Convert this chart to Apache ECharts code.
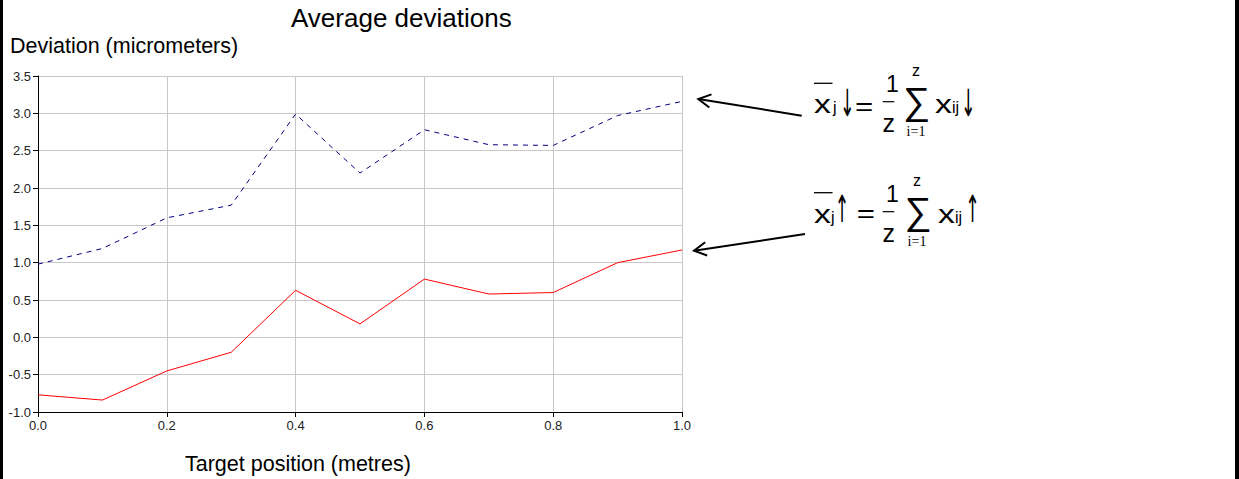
<!DOCTYPE html>
<html>
<head>
<meta charset="utf-8">
<title>Average deviations</title>
<style>
  html, body { margin: 0; padding: 0; background: #ffffff; }
  /* a non-opaque layer keeps text antialiasing greyscale */
  #chart { width: 1239px; height: 479px; opacity: 0.999; }
</style>
<script src="https://cdn.jsdelivr.net/npm/echarts@6/dist/echarts.min.js"></script>
</head>
<body>
<div id="chart"></div>
<script>
// Target positions along the axis (metres)
const positions = [0.0, 0.1, 0.2, 0.3, 0.4, 0.5, 0.6, 0.7, 0.8, 0.9, 1.0];
// Mean deviation, downward run (micrometers)
const meanDown = [0.98, 1.19, 1.60, 1.77, 2.99, 2.20, 2.78, 2.58, 2.57, 2.97, 3.16];
// Mean deviation, upward run (micrometers)
const meanUp = [-0.77, -0.84, -0.45, -0.20, 0.63, 0.18, 0.78, 0.58, 0.60, 1.00, 1.17];

const titleText = 'Average deviations';
const yAxisTitle = 'Deviation (micrometers)';
const xAxisTitle = 'Target position (metres)';

const SANS = '"Liberation Sans", Arial, Helvetica, sans-serif';
const SERIF = '"Liberation Serif", "Times New Roman", serif';
const ARROWS = '"DejaVu Sans"';
// text presentation selector keeps the arrows monochrome
const DOWN = '\u2193\uFE0E';
const UP = '\u2191\uFE0E';

const pairs = (xs, ys) => xs.map((x, i) => [x, ys[i]]);

// Text placed by its left edge and alphabetic baseline
function word(left, baseline, text, size, opts) {
  opts = opts || {};
  const align = opts.align || 'left';
  return {
    type: 'text',
    x: left,
    y: baseline - 0.347 * size,
    scaleX: opts.scaleX || 1,
    scaleY: opts.scaleY || 1,
    silent: true,
    style: {
      text: text,
      x: 0, y: 0,
      fill: '#000000',
      font: size + 'px ' + (opts.family || SANS),
      textAlign: align, align: align,
      textVerticalAlign: 'middle', verticalAlign: 'middle'
    }
  };
}

// Arrow symbol placed by the left of its box and its vertical middle,
// drawn narrower and taller than the plain glyph
function arrowGlyph(left, centerY, text) {
  return {
    type: 'text',
    x: left, y: centerY,
    scaleX: 0.7, scaleY: 1.5,
    silent: true,
    style: {
      text: text, x: 0, y: 0, fill: '#000000',
      font: '25px ' + ARROWS,
      textAlign: 'left', align: 'left',
      textVerticalAlign: 'middle', verticalAlign: 'middle'
    }
  };
}

function seg(x1, y1, x2, y2, w) {
  return {
    type: 'line', silent: true,
    shape: { x1: x1, y1: y1, x2: x2, y2: y2 },
    style: { stroke: '#000000', lineWidth: w || 1.5 }
  };
}

// Pointer arrow with an open head at (tx, ty)
function pointer(fx, fy, tx, ty) {
  const ang = Math.atan2(fy - ty, fx - tx);
  const len = 14, spread = 0.5;
  const a1 = [tx + len * Math.cos(ang + spread), ty + len * Math.sin(ang + spread)];
  const a2 = [tx + len * Math.cos(ang - spread), ty + len * Math.sin(ang - spread)];
  return [
    seg(fx, fy, tx, ty, 2),
    { type: 'polyline', silent: true,
      shape: { points: [a1, [tx, ty], a2] },
      style: { stroke: '#000000', lineWidth: 2, fill: null } }
  ];
}

// Formula: x̄j <arrow> = 1/z Σ(i=1..z) xij <arrow>
function formula(f) {
  const b = f.base;
  return [
    seg(814, f.barY, 832.5, f.barY, 1.3),
    word(814, b, 'x', 26, { scaleX: 1.3 }),
    word(f.j, b, 'j', 16),
    arrowGlyph(f.arrow1, f.arrowY, f.arrow),
    word(f.eq, f.eqBase, '=', 26, { scaleX: 1.2 }),
    word(886, b - 21.6, '1', 23),
    seg(882.7, b - 11.6, 894.3, b - 11.6, 1.2),
    word(882.5, b + 18.4, 'z', 25),
    word(f.sigma, b + 1.2, '\u2211', 38),
    word(f.sigmaMid, b - 37.3, 'z', 16, { align: 'center' }),
    word(f.sigmaMid, b + 23.4, 'i=1', 14, { family: SERIF, align: 'center' }),
    word(f.x2, b, 'x', 26, { scaleX: 1.3 }),
    word(f.x2 + 17, b, 'ij', 16),
    arrowGlyph(f.arrow2, f.arrowY, f.arrow)
  ];
}

const formulaDown = {
  base: 113.3, barY: 83.3, arrow: DOWN, arrowY: 103,
  j: 833, arrow1: 840, eq: 855, eqBase: 114.5,
  sigma: 903, sigmaMid: 916, x2: 935, arrow2: 961
};
const formulaUp = {
  base: 223.3, barY: 192.7, arrow: UP, arrowY: 209.5,
  j: 831, arrow1: 834.7, eq: 856.7, eqBase: 222,
  sigma: 904.5, sigmaMid: 917, x2: 938, arrow2: 965.2
};

const graphics = [].concat(
  [
    // frame edges
    { type: 'rect', silent: true, shape: { x: 0, y: 0, width: 3, height: 479 }, style: { fill: '#000000' } },
    { type: 'rect', silent: true, shape: { x: 1235, y: 0, width: 4, height: 479 }, style: { fill: '#000000' } },
    word(10, 53.3, yAxisTitle, 21.5),
    word(185, 471.7, xAxisTitle, 21.5)
  ],
  pointer(801.7, 115.7, 698.3, 99),
  pointer(805, 234, 694, 250.7),
  formula(formulaDown),
  formula(formulaUp)
);

const chart = echarts.init(document.getElementById('chart'), null, { renderer: 'svg' });

chart.setOption({
  backgroundColor: '#ffffff',
  animation: false,
  title: {
    text: titleText,
    left: 291,
    top: 5,
    padding: 0,
    textStyle: { fontFamily: SANS, fontSize: 26, fontWeight: 'normal', color: '#000000', lineHeight: 26 }
  },
  grid: { left: 38, top: 76, width: 644, height: 336, containLabel: false },
  xAxis: {
    type: 'value',
    min: 0, max: 1, interval: 0.2,
    axisLine: { show: true, onZero: false, lineStyle: { color: '#000000', width: 1 } },
    axisTick: { show: true, length: 5, lineStyle: { color: '#000000' } },
    axisLabel: {
      margin: 7, color: '#222222', fontFamily: SANS, fontSize: 13,
      formatter: v => v.toFixed(1)
    },
    splitLine: { show: true, lineStyle: { color: '#c8c8c8', width: 1 } }
  },
  yAxis: {
    type: 'value',
    min: -1, max: 3.5, interval: 0.5,
    axisLine: { show: true, onZero: false, lineStyle: { color: '#000000', width: 1 } },
    axisTick: { show: true, length: 5, lineStyle: { color: '#000000' } },
    axisLabel: {
      margin: 7, color: '#222222', fontFamily: SANS, fontSize: 13,
      formatter: v => v.toFixed(1)
    },
    splitLine: { show: true, lineStyle: { color: '#c8c8c8', width: 1 } }
  },
  series: [
    {
      name: 'mean down',
      type: 'line',
      data: pairs(positions, meanDown),
      showSymbol: false,
      symbol: 'none',
      lineStyle: { color: '#000080', width: 1, type: [5, 5] },
      z: 3
    },
    {
      name: 'mean up',
      type: 'line',
      data: pairs(positions, meanUp),
      showSymbol: false,
      symbol: 'none',
      lineStyle: { color: '#ff0000', width: 1 },
      z: 3
    }
  ],
  graphic: graphics
});
</script>
</body>
</html>
